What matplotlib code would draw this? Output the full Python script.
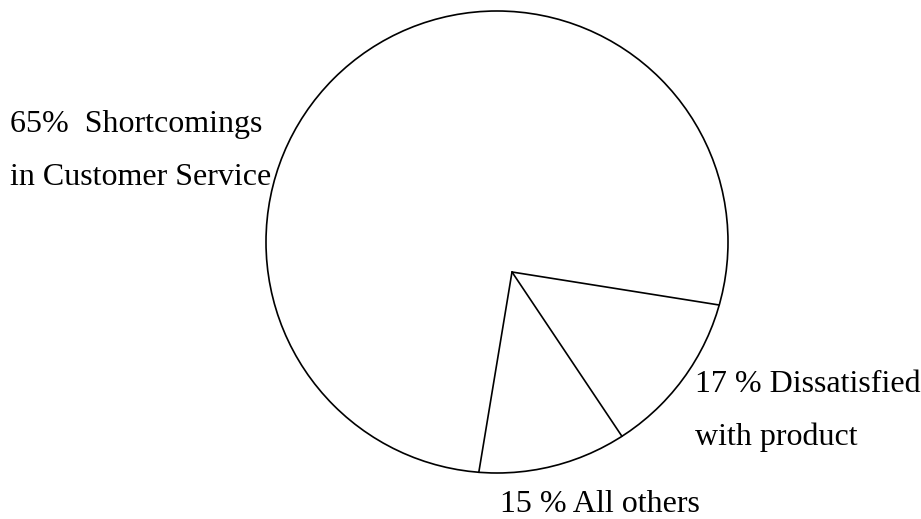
import numpy as np
import matplotlib.pyplot as plt
from matplotlib.patches import Circle

# shares of the circle as drawn (percent of 360 deg)
categories = ["Shortcomings in Customer Service", "Dissatisfied with product", "All others"]
shares = [74.9, 13.1, 12.0]
labels = ["65%  Shortcomings\nin Customer Service",
          "17 % Dissatisfied\nwith product",
          "15 % All others"]

# layout (pixel units, y pointing down)
W, H = 921, 519
center = np.array([497.0, 242.0])
radius = 231.0
vertex = np.array([512.0, 272.0])
start_angle = -9.05          # first boundary, degrees, counter-clockwise from east
label_pos = [(10, 132), (695, 392), (500, 512)]   # baseline of first line
line_gap = 53

plt.rcParams["font.family"] = ["Liberation Serif", "DejaVu Serif"]

fig = plt.figure(figsize=(W / 100, H / 100), dpi=100)
ax = fig.add_axes([0, 0, 1, 1])
ax.set_xlim(0, W)
ax.set_ylim(H, 0)
ax.set_aspect("equal")
ax.axis("off")

ax.add_patch(Circle(center, radius, facecolor="white", edgecolor="black", lw=1.2))


def ray_end(angle_deg):
    # where a ray from the vertex meets the circle
    a = np.radians(angle_deg)
    d = np.array([np.cos(a), -np.sin(a)])
    f = vertex - center
    b = np.dot(f, d)
    c = np.dot(f, f) - radius ** 2
    t = -b + np.sqrt(b * b - c)
    return vertex + t * d


# boundaries go clockwise from start_angle; the big slice wraps round
bounds = [start_angle]
for s in shares[1:]:
    bounds.append(bounds[-1] - s * 3.6)

for ang in bounds:
    p = ray_end(ang)
    ax.plot([vertex[0], p[0]], [vertex[1], p[1]], color="black", lw=1.2,
            solid_capstyle="round")

for text, (x, y) in zip(labels, label_pos):
    for i, line in enumerate(text.split("\n")):
        ax.text(x, y + i * line_gap, line, ha="left", va="baseline", fontsize=23)

fig.savefig("out.png", dpi=100)
